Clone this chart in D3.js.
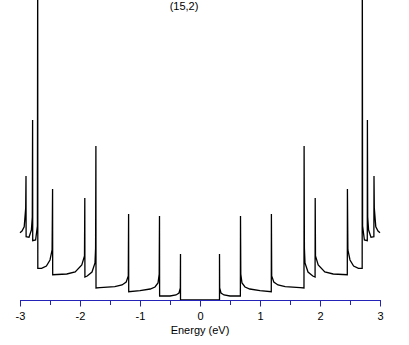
<!DOCTYPE html>
<html>
<head>
<meta charset="utf-8">
<script src="https://cdn.jsdelivr.net/npm/d3@7"></script>
<style>
  body { margin: 0; background: #fff; }
  svg { display: block; font-family: "Liberation Sans", Arial, sans-serif; }
</style>
</head>
<body>
<svg id="dos" width="409" height="345"></svg>
<script>
// DOS of the (15,2) tube, positive-energy branch
// [energy (eV), DOS (arb. units)]; the curve is symmetric around E = 0
var dosPositive = [
  [0.000, 0.00], [0.325, 0.00],
  [0.325, 0.46], [0.328, 0.12], [0.35, 0.07], [0.40, 0.05], [0.50, 0.04], [0.60, 0.04], [0.673, 0.04],
  [0.675, 0.84], [0.680, 0.26], [0.70, 0.17], [0.75, 0.13], [0.83, 0.11], [1.00, 0.093], [1.188, 0.083],
  [1.190, 0.86], [1.195, 0.24], [1.23, 0.18], [1.30, 0.15], [1.42, 0.133], [1.67, 0.123], [1.733, 0.12],
  [1.735, 1.54], [1.740, 0.52], [1.75, 0.37], [1.80, 0.28], [1.88, 0.24], [1.918, 0.23],
  [1.920, 1.02], [1.925, 0.44], [1.97, 0.35], [2.08, 0.28], [2.22, 0.26], [2.455, 0.253],
  [2.457, 1.11], [2.465, 0.50], [2.50, 0.40], [2.56, 0.34], [2.64, 0.317], [2.703, 0.317],
  [2.705, 3.50], [2.710, 0.74], [2.74, 0.60], [2.788, 0.593],
  [2.790, 1.80], [2.795, 0.83], [2.81, 0.70], [2.85, 0.627], [2.898, 0.633],
  [2.900, 1.24], [2.905, 0.92], [2.93, 0.733], [2.967, 0.69], [3.000, 0.673]
];

var tickValues = [-3, -2.5, -2, -1.5, -1, -0.5, 0, 0.5, 1, 1.5, 2, 2.5, 3];
var tickLabels = ["-3", "", "-2", "", "-1", "", "0", "", "1", "", "2", "", "3"];
var title = "(15,2)";
var xLabel = "Energy (eV)";

var svg = d3.select("svg#dos");

var x = d3.scaleLinear().domain([-3, 3]).range([20, 380]);
var y = d3.scaleLinear().domain([0, 3]).range([300, 0]);

// full curve: mirror of the positive branch, then the branch itself
var dos = dosPositive.slice().reverse().map(d => [-d[0], d[1]])
  .concat(dosPositive.slice(1));

svg.append("clipPath").attr("id", "plotClip")
  .append("rect").attr("x", 0).attr("y", 0).attr("width", 409).attr("height", 301);

var line = d3.line()
  .x(d => x(d[0]))
  .y(d => y(d[1]));

svg.append("path")
  .datum(dos)
  .attr("clip-path", "url(#plotClip)")
  .attr("fill", "none")
  .attr("stroke", "#000")
  .attr("stroke-width", 1.3)
  .attr("stroke-linejoin", "miter")
  .attr("d", line);

// x axis
var xAxis = svg.append("g")
  .attr("transform", translate(0, 300))
  .call(d3.axisBottom(x)
    .tickValues(tickValues)
    .tickSize(6)
    .tickSizeOuter(0)
    .tickFormat((d, i) => tickLabels[i]));

xAxis.select(".domain").attr("stroke", "#2323b8").attr("stroke-width", 1.2);
xAxis.selectAll(".tick line")
  .attr("stroke", "#2323b8")
  .attr("y2", (d, i) => tickLabels[i] === "" ? 5 : 6.5);
xAxis.selectAll(".tick text")
  .attr("fill", "#000")
  .attr("font-size", 11)
  .attr("font-family", "Liberation Sans, Arial, sans-serif")
  .attr("y", 19.5)
  .attr("dy", 0);

svg.append("text")
  .attr("x", 200)
  .attr("y", 334)
  .attr("text-anchor", "middle")
  .attr("font-size", 11)
  .text(xLabel);

svg.append("text")
  .attr("x", 184)
  .attr("y", 9.5)
  .attr("text-anchor", "middle")
  .attr("font-size", 11)
  .text(title);

function translate(x, y) {
  return 'translate(' + String(x) + ',' + String(y) + ')';
}
</script>
</body>
</html>
